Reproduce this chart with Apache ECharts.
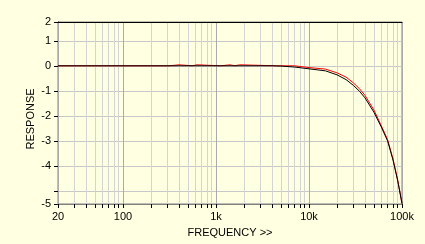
<!DOCTYPE html>
<html>
<head>
<meta charset="utf-8">
<script src="https://cdn.jsdelivr.net/npm/echarts@6/dist/echarts.min.js"></script>
<style>
html,body{margin:0;padding:0;background:#FFFFE1;}
#c{width:425px;height:244px;}
</style>
</head>
<body>
<div id="c"></div>
<script>
// Frequency ticks (Hz)
var majorTicks = [20, 100, 1000, 10000, 100000];
var minorTicks = [20,30,40,50,60,70,80,90,100,200,300,400,500,600,700,800,900,1000,2000,3000,4000,5000,6000,7000,8000,9000,10000,20000,30000,40000,50000,60000,70000,80000,90000,100000];
// Response axis
var yMin = -5.52, yMax = 1.75;
var yTicks = [-5.52, -5, -4, -3, -2, -1, 0, 1, 1.75];
var yLabels = [-5.52, -4, -3, -2, -1, 0, 1, 1.75];

// Black curve
var blackFreq = [20, 1000, 4000, 5000, 7000, 10000, 15000, 20000, 25000, 30000, 35000, 40000, 50000, 60000, 70000, 80000, 90000, 100000];
var blackVal  = [0, 0, 0, -0.01, -0.05, -0.12, -0.2, -0.36, -0.55, -0.78, -1.02, -1.28, -1.86, -2.45, -3.0, -3.76, -4.6, -5.5];
// Red curve
var redFreq = [20, 316, 320, 400, 405, 556, 560, 625, 630, 1120, 1130, 1420, 1430, 1590, 1600, 1790, 1800, 4500, 7000, 10000, 15000, 20000, 25000, 30000, 35000, 40000, 50000, 60000, 70000, 80000, 90000, 100000];
var redVal  = [0, 0, 0.04, 0.04, 0, 0, 0.04, 0.04, 0, 0, 0.04, 0.04, 0, 0, 0.04, 0.04, 0, 0, 0, -0.07, -0.13, -0.28, -0.45, -0.68, -0.92, -1.18, -1.77, -2.4, -2.95, -3.72, -4.57, -5.5];

function pairs(xs, ys){ return xs.map(function(x,i){ return [x, ys[i]]; }); }
function fmtF(v){ return v >= 1000 ? (v/1000) + 'k' : String(v); }
var font = 'Liberation Sans';

var chart = echarts.init(document.getElementById('c'), null, {renderer:'canvas'});
chart.setOption({
  backgroundColor: '#FFFFE1',
  animation: false,
  textStyle: {fontFamily: font},
  grid: {left: 58, right: 23, top: 22, bottom: 40, show: true, borderColor: '#808080', borderWidth: 1,
         containLabel: false, outerBoundsMode: 'none'},
  xAxis: [
    {
      type: 'log', logBase: 10, min: 20, max: 100000, z: 1, position: 'bottom',
      name: 'FREQUENCY >>', nameLocation: 'middle', nameGap: 23, nameMoveOverlap: false,
      nameTextStyle: {fontFamily: font, fontSize: 11, color: '#000'},
      axisLine: {show: true, onZero: false, lineStyle: {color: '#808080', width: 1}},
      axisTick: {show: true, inside: false, length: 4, customValues: minorTicks, lineStyle: {color: '#000', width: 1}},
      axisLabel: {show: true, customValues: majorTicks, formatter: fmtF, margin: 7, fontFamily: font, fontSize: 11, color: '#000'},
      splitLine: {show: true, lineStyle: {color: '#D4D4D4', width: 1}}
    },
    {
      type: 'log', logBase: 10, min: 20, max: 100000, z: 2, position: 'bottom',
      axisLine: {show: false, onZero: false},
      axisTick: {show: false, customValues: majorTicks},
      axisLabel: {show: false},
      splitLine: {show: true, lineStyle: {color: '#ABABAB', width: 1}}
    },
    {
      type: 'log', logBase: 10, min: 20, max: 100000, position: 'top', z: 3,
      axisLine: {show: true, onZero: false, lineStyle: {color: '#000', width: 1}},
      axisTick: {show: false}, axisLabel: {show: false}, splitLine: {show: false}
    }
  ],
  yAxis: [
    {
      type: 'value', min: yMin, max: yMax, position: 'left',
      name: 'RESPONSE', nameLocation: 'middle', nameGap: 22, nameRotate: 90, nameMoveOverlap: false,
      nameTextStyle: {fontFamily: font, fontSize: 11, color: '#000', padding: [0,0,0,-12]},
      axisLine: {show: true, onZero: false, lineStyle: {color: '#000', width: 1}},
      axisTick: {show: true, inside: false, length: 4, customValues: yTicks, lineStyle: {color: '#000'}},
      axisLabel: {show: true, customValues: yLabels, margin: 7, fontFamily: font, fontSize: 11, color: '#000',
        formatter: function(v){ if (v > 1.5) return '2'; if (v < -5.2) return '-5'; return String(Math.round(v)); }},
      splitLine: {show: true, lineStyle: {color: '#C8C8C8', width: 1}}
    }
  ],
  series: [
    {type: 'line', xAxisIndex: 0, data: pairs(redFreq, redVal), showSymbol: false, symbol: 'none',
     lineStyle: {color: '#FF0000', width: 1}, z: 4},
    {type: 'line', xAxisIndex: 0, data: pairs(blackFreq, blackVal), showSymbol: false, symbol: 'none',
     lineStyle: {color: '#000000', width: 1}, z: 5}
  ]
});
</script>
</body>
</html>
